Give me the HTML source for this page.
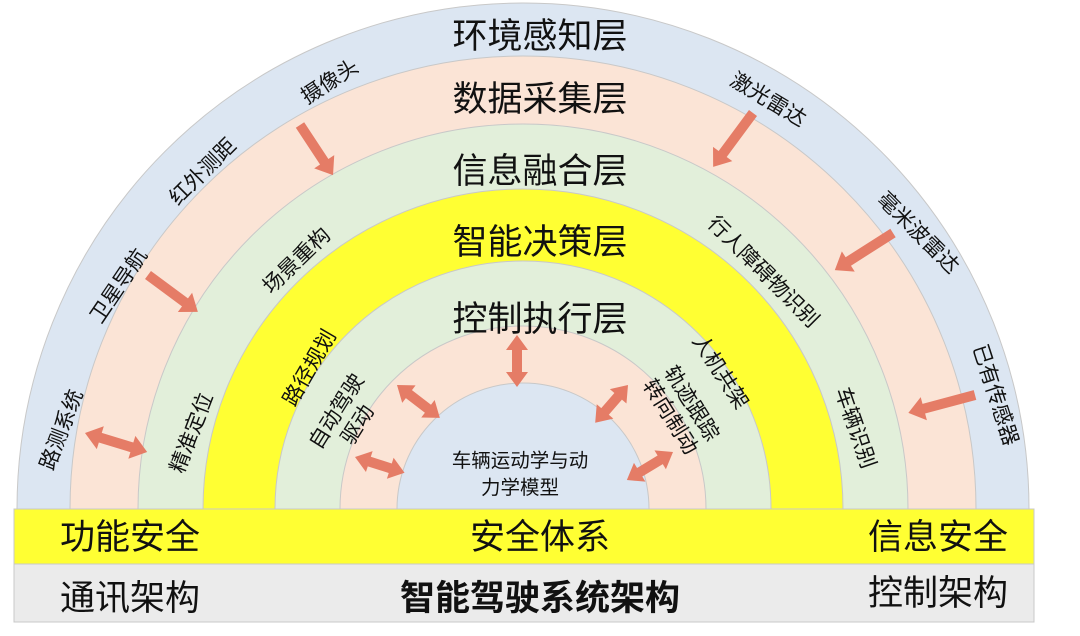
<!DOCTYPE html>
<html><head><meta charset="utf-8"><style>
html,body{margin:0;padding:0;background:#fff;width:1080px;height:636px;overflow:hidden;}
svg{display:block;}
text{font-family:"Liberation Sans","Noto Sans CJK SC",sans-serif;fill:#111;}
</style></head><body>
<svg width="1080" height="636" viewBox="0 0 1080 636" xmlns="http://www.w3.org/2000/svg">
<defs>
<clipPath id="c"><rect x="0" y="0" width="1080" height="509"/></clipPath>
</defs>
<g clip-path="url(#c)" stroke="#c8c8c8" stroke-width="1">
<circle cx="523" cy="509" r="506" fill="#dce6f2"/>
<circle cx="523" cy="509" r="453" fill="#fbe4d6"/>
<circle cx="523" cy="509" r="385" fill="#e2efda"/>
<circle cx="523" cy="509" r="320" fill="#ffff33"/>
<circle cx="523" cy="509" r="248" fill="#e2efda"/>
<circle cx="523" cy="509" r="183" fill="#fbe4d6"/>
<circle cx="523" cy="509" r="126" fill="#dce6f2"/>
</g>
<rect x="14" y="509" width="1020" height="55" fill="#ffff33" stroke="#c8c8c8"/>
<rect x="14" y="564" width="1020" height="58" fill="#ebebeb" stroke="#c8c8c8"/>

<g font-size="35" text-anchor="middle">
<text x="540" y="48">环境感知层</text>
<text x="540" y="111">数据采集层</text>
<text x="540" y="183">信息融合层</text>
<text x="540" y="254">智能决策层</text>
<text x="540" y="331">控制执行层</text>
</g>

<g fill="#e57c66">
<g transform="translate(300,125) rotate(56.6)"><path d="M0,-5 L44,-5 L44,-12 L60,0 L44,12 L44,5 L0,5 Z"/></g>
<g transform="translate(148,275) rotate(36.5)"><path d="M0,-5 L46,-5 L46,-12 L62,0 L46,12 L46,5 L0,5 Z"/></g>
<g transform="translate(753,113) rotate(126.5)"><path d="M0,-5 L51,-5 L51,-12 L67,0 L51,12 L51,5 L0,5 Z"/></g>
<g transform="translate(893,233) rotate(147.5)"><path d="M0,-5 L53,-5 L53,-12 L69,0 L53,12 L53,5 L0,5 Z"/></g>
<g transform="translate(975,395) rotate(165)"><path d="M0,-5 L53,-5 L53,-12 L69,0 L53,12 L53,5 L0,5 Z"/></g>
<g transform="translate(85,433) rotate(17)"><path d="M0,0 L16,-12 L16,-5 L49,-5 L49,-12 L65,0 L49,12 L49,5 L16,5 L16,12 Z"/></g>
<g transform="translate(397,385) rotate(37.5)"><path d="M0,0 L15,-11 L15,-5 L39,-5 L39,-11 L54,0 L39,11 L39,5 L15,5 L15,11 Z"/></g>
<g transform="translate(355,457) rotate(17.7)"><path d="M0,0 L15,-11 L15,-5 L37,-5 L37,-11 L52,0 L37,11 L37,5 L15,5 L15,11 Z"/></g>
<g transform="translate(517,335) rotate(90)"><path d="M0,0 L15,-11 L15,-5 L37,-5 L37,-11 L52,0 L37,11 L37,5 L15,5 L15,11 Z"/></g>
<g transform="translate(628,385) rotate(131)"><path d="M0,0 L15,-11 L15,-5 L35,-5 L35,-11 L50,0 L35,11 L35,5 L15,5 L15,11 Z"/></g>
<g transform="translate(673,452) rotate(148.7)"><path d="M0,0 L15,-11 L15,-5 L39,-5 L39,-11 L54,0 L39,11 L39,5 L15,5 L15,11 Z"/></g>
</g>

<g font-size="21" text-anchor="middle" dominant-baseline="central">
<text transform="translate(330,82) rotate(-33)">摄像头</text>
<text transform="translate(203,172) rotate(-45)">红外测距</text>
<text transform="translate(119,286) rotate(-56)">卫星导航</text>
<text transform="translate(62,430) rotate(-69)">路测系统</text>
<text transform="translate(297,261) rotate(-44)">场景重构</text>
<text transform="translate(192,433) rotate(-69)">精准定位</text>
<text transform="translate(310,368) rotate(-60)">路径规划</text>
<g transform="translate(347,418) rotate(-58)"><text x="0" y="-12">自动驾驶</text><text x="0" y="13">驱动</text></g>
<text transform="translate(768,100) rotate(31)">激光雷达</text>
<text transform="translate(918,233) rotate(45)">毫米波雷达</text>
<text transform="translate(995,395) rotate(72)">已有传感器</text>
<text transform="translate(763,272) rotate(45)">行人障碍物识别</text>
<text transform="translate(855,428) rotate(71)">车辆识别</text>
<text transform="translate(720,372) rotate(57)">人机共架</text>
<g transform="translate(681,410) rotate(58)"><text x="0" y="-12">轨迹跟踪</text><text x="0" y="13">转向制动</text></g>
</g>
<g font-size="19.5" text-anchor="middle">
<text x="520" y="467">车辆运动学与动</text>
<text x="520" y="494">力学模型</text>
</g>

<g font-size="35">
<text x="60" y="549">功能安全</text>
<text x="540" y="549" text-anchor="middle">安全体系</text>
<text x="868" y="549">信息安全</text>
<text x="60" y="610">通讯架构</text>
<text x="540" y="610" text-anchor="middle" font-weight="bold">智能驾驶系统架构</text>
<text x="868" y="605">控制架构</text>
</g>
</svg>
</body></html>
